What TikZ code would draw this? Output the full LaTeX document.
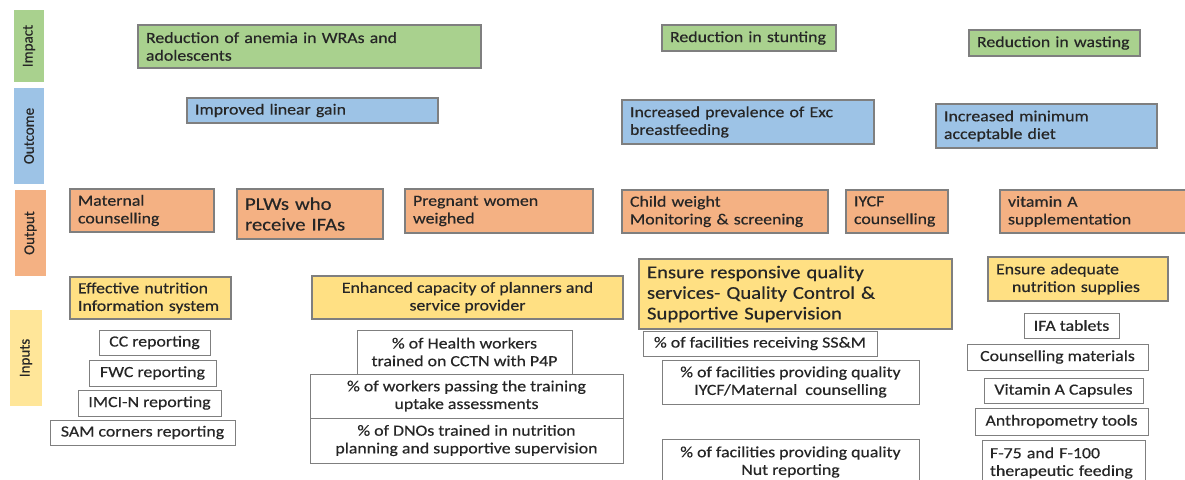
\documentclass[tikz,border=0pt]{standalone}
\usepackage{fontspec}
\setmainfont{Carlito}[FakeStretch=1.15, FakeBold=0.4]
\newfontfamily\sidefont{Carlito}[FakeBold=0.4]
\usetikzlibrary{positioning}

\definecolor{impactgreen}{HTML}{A9D18E}
\definecolor{outcomeblue}{HTML}{9DC3E6}
\definecolor{outputorange}{HTML}{F4B183}
\definecolor{inputyellow}{HTML}{FFE083}
\definecolor{sideyellow}{HTML}{FFE699}
\definecolor{boxline}{HTML}{7F7F7F}
\definecolor{textgrey}{HTML}{262626}

\tikzset{
  sz/.style 2 args={minimum width=#1pt, minimum height=#2pt},
  lsz/.code 2 args={\pgfmathsetmacro\lsztw{#1-16}\tikzset{sz={#1}{#2}, text width=\lsztw pt, align=left}},
  box/.style={draw=boxline, line width=1.2pt, inner xsep=8pt, inner ysep=1pt, text=textgrey, font=\fontsize{15.5}{17.7}\selectfont},
  impactbox/.style={box, fill=impactgreen},
  outcomebox/.style={box, fill=outcomeblue},
  outputbox/.style={box, fill=outputorange},
  inputbox/.style={box, fill=inputyellow},
  indicator/.style={box, line width=1pt, fill=white, align=center},
  big/.style={font=\fontsize{18}{20.6}\selectfont},
  level/.style={inner sep=0pt, text=textgrey, font=\sidefont\fontsize{15}{18}\selectfont, rotate=90},
}

\begin{document}
\begin{tikzpicture}[x=1pt, y=-1pt]
\useasboundingbox (0,0) rectangle (1185,479);
\fill [white] (0,0) rectangle (1185,479);
\clip (0,0) rectangle (1185,479);

% levels
\node [level, fill=impactgreen, sz={72}{30}] (impact) at (29,46) {Impact};
\node [level, fill=outcomeblue, sz={96}{30}] (outcome) at (29,136) {Outcome};
\node [level, fill=outputorange, sz={86}{31}] (output) at (30.5,233) {Output};
\node [level, fill=sideyellow, sz={96}{32}] (inputs) at (26,358) {Inputs};

% impact
\node [impactbox, lsz={343}{43}] (anemia) at (309.5,46.5) {Reduction of anemia in WRAs and\\adolescents};
\node [impactbox, lsz={174}{26}] (stunting) at (749,38) {Reduction in stunting};
\node [impactbox, lsz={171}{26}] (wasting) at (1054.5,43) {Reduction in wasting};

% outcome
\node [outcomebox, lsz={251}{25}] (lineargain) at (312.5,110.5) {Improved linear gain};
\node [outcomebox, lsz={252}{44}] (ebf) at (748,122) {Increased prevalence of Exc\\breastfeeding};
\node [outcomebox, lsz={221}{44}] (mad) at (1046.5,126) {Increased minimum\\acceptable diet};

% output
\node [outputbox, lsz={144}{43}] (matcouns) at (142,210.5) {Maternal\\counselling};
\node [outputbox, big, lsz={146}{50}] (plw) at (310,214) {PLWs who\\receive IFAs};
\node [outputbox, lsz={188}{44}] (pwweigh) at (499,211) {Pregnant women\\weighed};
\node [outputbox, lsz={206}{43}] (childwt) at (725,211.5) {Child weight\\Monitoring \& screening};
\node [outputbox, lsz={102}{43}] (iycf) at (897,211.5) {IYCF\\counselling};
\node [outputbox, lsz={200}{43}] (vita) at (1100,211.5) {vitamin A\\supplementation};

% inputs
\node [inputbox, lsz={161}{42}] (nis) at (150.5,298) {Effective nutrition\\Information system};
\node [indicator, sz={111}{25}] (ccrep) at (154.5,342.5) {CC reporting};
\node [indicator, sz={127}{26}] (fwcrep) at (152.5,373) {FWC reporting};
\node [indicator, sz={143}{26}] (imcirep) at (149.5,403) {IMCI-N reporting};
\node [indicator, sz={185}{25}] (samrep) at (142.5,432.5) {SAM corners reporting};

\node [inputbox, sz={311}{43}, align=center] (capacity) at (467.5,297.5) {Enhanced capacity of planners and\\service provider};
\node [indicator, sz={215}{44}] (hwtrained) at (464.5,352) {\% of Health workers\\trained on CCTN with P4P};
\node [indicator, sz={313}{44}] (passing) at (466.5,396) {\% of workers passing the training\\uptake assessments};
\node [indicator, sz={313}{45}] (dnos) at (466.5,440.5) {\% of DNOs trained in nutrition\\planning and supportive supervision};

\node [inputbox, big, lsz={313}{70}] (quality) at (795.5,294) {Ensure responsive quality\\services- Quality Control \&\\Supportive Supervision};
\node [indicator, sz={234}{25}] (ssm) at (760,343.5) {\% of facilities receiving SS\&M};
\node [indicator, sz={257}{44}] (qcouns) at (790.5,382) {\% of facilities providing quality\\IYCF/Maternal\ \ counselling};
\node [indicator, sz={257}{46}] (qnut) at (790.5,462) {\% of facilities providing quality\\Nut reporting};

\node [inputbox, lsz={180}{44}] (supplies) at (1078,279) {Ensure adequate\\\hspace*{16pt}nutrition supplies};
\node [indicator, sz={95}{25}] (ifa) at (1071.5,325.5) {IFA tablets};
\node [indicator, sz={181}{26}] (cmat) at (1057.5,357) {Counselling materials};
\node [indicator, sz={159}{25}] (vitcap) at (1063.5,390.5) {Vitamin A Capsules};
\node [indicator, sz={173}{27}] (anthro) at (1061.5,421.5) {Anthropometry tools};
\node [indicator, lsz={163}{46}] (therapeutic) at (1063.5,463) {F-75 and F-100\\therapeutic feeding};
\end{tikzpicture}
\end{document}
